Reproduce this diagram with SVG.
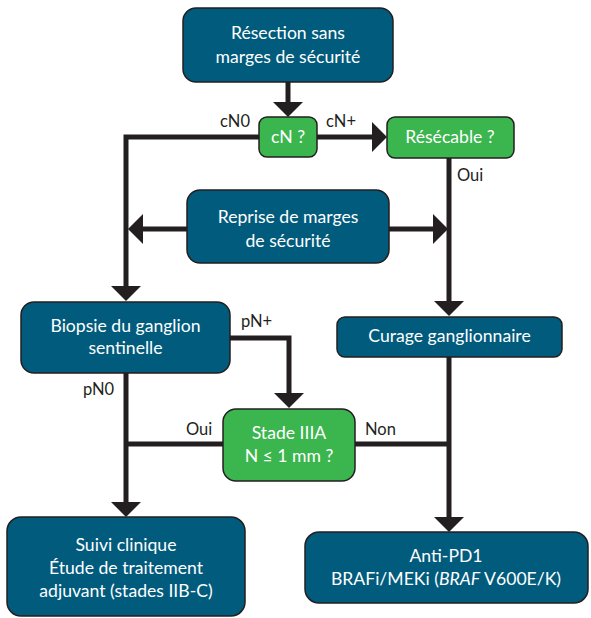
<svg xmlns="http://www.w3.org/2000/svg" width="591" height="618" viewBox="0 0 591 618">
<style>
.blue{fill:#015b7d;stroke:#231f20;stroke-width:1.5}
.green{fill:#3bb54e;stroke:#231f20;stroke-width:1.5}
.t{font-family:Lato,"Liberation Sans",sans-serif;font-size:17.6px;fill:#ffffff;text-anchor:middle}
.lab{font-family:Lato,"Liberation Sans",sans-serif;font-size:16.5px;fill:#231f20}
.c{fill:none;stroke:#231f20;stroke-width:5;stroke-linejoin:miter}
</style>
<defs>
<marker id="ah" viewBox="0 0 15 30" refX="0" refY="15" markerWidth="15" markerHeight="30" markerUnits="userSpaceOnUse" orient="auto">
<path d="M0,0 L15,15 L0,30 z" fill="#231f20"/>
</marker>
</defs>
<g id="connectors">
<path class="c" d="M288,82 V102" marker-end="url(#ah)"/>
<path class="c" d="M317,137 H372" marker-end="url(#ah)"/>
<path class="c" d="M259,137 H126 V286" marker-end="url(#ah)"/>
<path class="c" d="M187,229 H143" marker-end="url(#ah)"/>
<path class="c" d="M389,229 H433" marker-end="url(#ah)"/>
<path class="c" d="M449,158 V301" marker-end="url(#ah)"/>
<path class="c" d="M230,338 H289 V393" marker-end="url(#ah)"/>
<path class="c" d="M126,373 V502" marker-end="url(#ah)"/>
<path class="c" d="M223,444 H126"/>
<path class="c" d="M449,357 V517" marker-end="url(#ah)"/>
<path class="c" d="M355,444 H449"/>
<text class="lab" x="220" y="127">cN0</text>
<text class="lab" x="326" y="127">cN+</text>
<text class="lab" x="457" y="181">Oui</text>
<text class="lab" x="241" y="327">pN+</text>
<text class="lab" x="83" y="395">pN0</text>
<text class="lab" x="186" y="435">Oui</text>
<text class="lab" x="365" y="435">Non</text>
</g>
<g id="n-resection">
<rect class="blue" x="183" y="8" width="210" height="74" rx="13"/>
<text class="t" x="288" y="39">Résection sans</text>
<text class="t" x="288" y="63">marges de sécurité</text>
</g>
<g id="n-cn">
<rect class="green" x="259" y="117" width="58" height="40" rx="8"/>
<text class="t" x="288" y="143">cN ?</text>
</g>
<g id="n-resecable">
<rect class="green" x="387" y="117" width="127" height="41" rx="8"/>
<text class="t" x="450" y="143">Résécable ?</text>
</g>
<g id="n-reprise">
<rect class="blue" x="187" y="190" width="202" height="73" rx="13"/>
<text class="t" x="288" y="223">Reprise de marges</text>
<text class="t" x="288" y="247">de sécurité</text>
</g>
<g id="n-biopsie">
<rect class="blue" x="21" y="302" width="209" height="71" rx="13"/>
<text class="t" x="125.5" y="332">Biopsie du ganglion</text>
<text class="t" x="125.5" y="354">sentinelle</text>
</g>
<g id="n-curage">
<rect class="blue" x="337" y="317" width="225" height="40" rx="8"/>
<text class="t" x="449.5" y="342">Curage ganglionnaire</text>
</g>
<g id="n-stade">
<rect class="green" x="223" y="409" width="132" height="72" rx="13"/>
<text class="t" x="289" y="439">Stade IIIA</text>
<text class="t" x="289" y="462">N ≤ 1 mm ?</text>
</g>
<g id="n-suivi">
<rect class="blue" x="7" y="517" width="238" height="99" rx="14"/>
<text class="t" x="126" y="551">Suivi clinique</text>
<text class="t" x="126" y="574">Étude de traitement</text>
<text class="t" x="126" y="597">adjuvant (stades IIB-C)</text>
</g>
<g id="n-anti">
<rect class="blue" x="305" y="532" width="283" height="71" rx="14"/>
<text class="t" x="446" y="562">Anti-PD1</text>
<text class="t" x="446" y="585">BRAFi/MEKi (<tspan font-style="italic">BRAF</tspan> V600E/K)</text>
</g>
</svg>
